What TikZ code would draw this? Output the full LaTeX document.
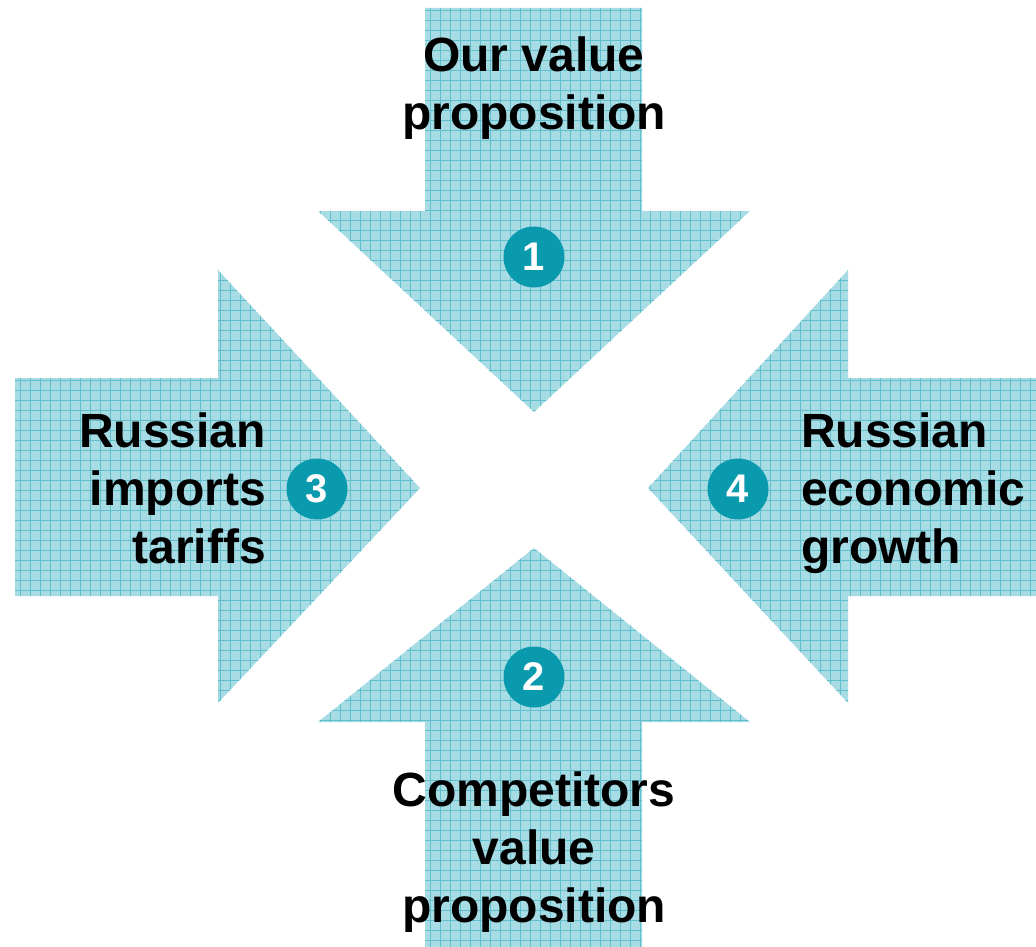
\documentclass[tikz,border=0pt]{standalone}
\usepackage{fontspec}
\setmainfont{Liberation Sans}
\definecolor{arrowfill}{HTML}{A8DCE4}
\definecolor{gridline}{HTML}{5FBFCC}
\definecolor{badge}{HTML}{0A9AAE}
\tikzset{
  lbl/.style={font=\bfseries\fontsize{48}{58}\selectfont, text=black, inner sep=0pt},
  num/.style={circle, fill=badge, minimum size=61pt, inner sep=0pt, text=white, font=\bfseries\fontsize{40}{40}\selectfont},
  gridl/.style={gridline, line width=0.9pt},
}
\begin{document}
\begin{tikzpicture}[x=1pt,y=-1pt]
\useasboundingbox (0,0) rectangle (1036,947);
\def\arrows{
  (425,8) -- (642,8) -- (642,211) -- (750,211) -- (534,412) -- (318,211) -- (425,211) -- cycle
  (425,947) -- (642,947) -- (642,722) -- (750,722) -- (534,548) -- (318,722) -- (425,722) -- cycle
  (15,378) -- (218,378) -- (218,270) -- (420,488) -- (218,703) -- (218,596) -- (15,596) -- cycle
  (1036,378) -- (848,378) -- (848,270) -- (648,488) -- (848,703) -- (848,596) -- (1036,596) -- cycle
}
\begin{scope}
  \clip \arrows;
  \fill[arrowfill] (0,0) rectangle (1036,947);
  \foreach \i in {0,10,...,1040} {\draw[gridl] (\i,0) -- (\i,947);}
  \foreach \j in {0,10,...,950} {\draw[gridl] (0,\j) -- (1036,\j);}
\end{scope}
\node[num] (n1) at (534,257) {1};
\node[num] (n2) at (534,677) {2};
\node[num] (n3) at (317,489) {3};
\node[num] (n4) at (738,489) {4};
\node[lbl, align=center, anchor=north] (t1) at (534,37) {Our value\\proposition};
\node[lbl, align=center, anchor=north] (t2) at (534,772) {Competitors\\value\\proposition};
\node[lbl, align=right, anchor=north east] (t3) at (266,413) {Russian\\imports\\tariffs};
\node[lbl, align=left, anchor=north west] (t4) at (801,413) {Russian\\economic\\growth};
\end{tikzpicture}
\end{document}
